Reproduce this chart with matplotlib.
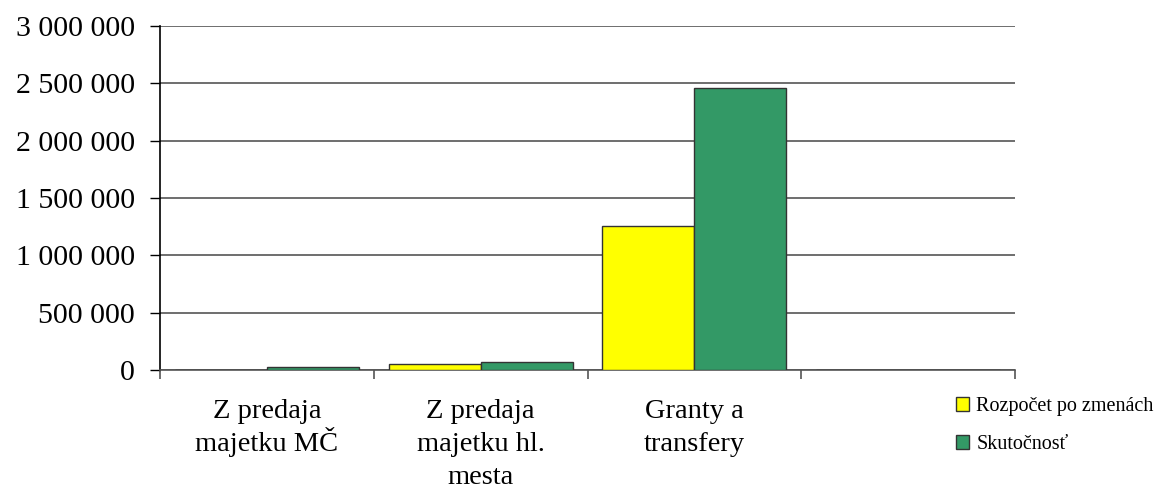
import matplotlib.pyplot as plt
import numpy as np
from matplotlib.ticker import FuncFormatter

# data
kategorie = ["Z predaja\nmajetku MČ", "Z predaja\nmajetku hl.\nmesta", "Granty a\ntransfery", ""]
rozpocet = [0, 52000, 1257000, 0]
skutocnost = [30000, 72000, 2455000, 0]
serie = ["Rozpočet po zmenách", "Skutočnosť"]
farby = ["#ffff00", "#339966"]

plt.rcParams['font.family'] = ['Liberation Serif', 'DejaVu Serif']

fig = plt.figure(figsize=(11.6, 4.91), dpi=100)
ax = fig.add_axes([160/1160, 1-370/491, 855/1160, 344/491])

x = np.arange(len(kategorie))
w = 0.43
ax.bar(x - w/2, rozpocet, w, color=farby[0], edgecolor="#333333", linewidth=1, label=serie[0], zorder=3)
ax.bar(x + w/2, skutocnost, w, color=farby[1], edgecolor="#333333", linewidth=1, label=serie[1], zorder=3)

ax.set_xlim(-0.5, len(kategorie) - 0.5)
ax.set_ylim(0, 3000000)
ax.set_yticks(np.arange(0, 3000001, 500000))
ax.yaxis.set_major_formatter(FuncFormatter(lambda v, p: f"{int(v):,}".replace(",", " ")))
ax.tick_params(axis="y", labelsize=21.5, direction="out", length=7, width=1, pad=11, colors="black")
ax.grid(axis="y", color="#555555", linewidth=1.2, zorder=0)

# hranice kategorii ako ticky, popisy v strede (kazdy riadok zvlast, aby caron nemenil riadkovanie)
ax.set_xticks(np.arange(-0.5, len(kategorie)))
ax.set_xticklabels([])
ax.tick_params(axis="x", direction="out", length=6.5, width=1.2, colors="#555555")
for xi, lab in zip(x, kategorie):
    for i, riadok in enumerate(lab.split("\n")):
        ax.annotate(riadok, xy=(xi, 0), xycoords=("data", "axes fraction"),
                    xytext=(0, -34.3 - 23.9 * i), textcoords="offset points",
                    ha="center", va="baseline", fontsize=20.5)

for s in ["top", "right"]:
    ax.spines[s].set_visible(False)
ax.spines["left"].set_linewidth(1.2)
ax.spines["bottom"].set_color("#555555")
ax.spines["bottom"].set_linewidth(1.2)

fig.legend(loc="upper left", bbox_to_anchor=(946/1160, 1-387/491), frameon=False, borderpad=0,
           fontsize=14.5, handlelength=0.65, handleheight=0.65, labelspacing=0.95, handletextpad=0.35)

fig.savefig("out.png", dpi=100)
